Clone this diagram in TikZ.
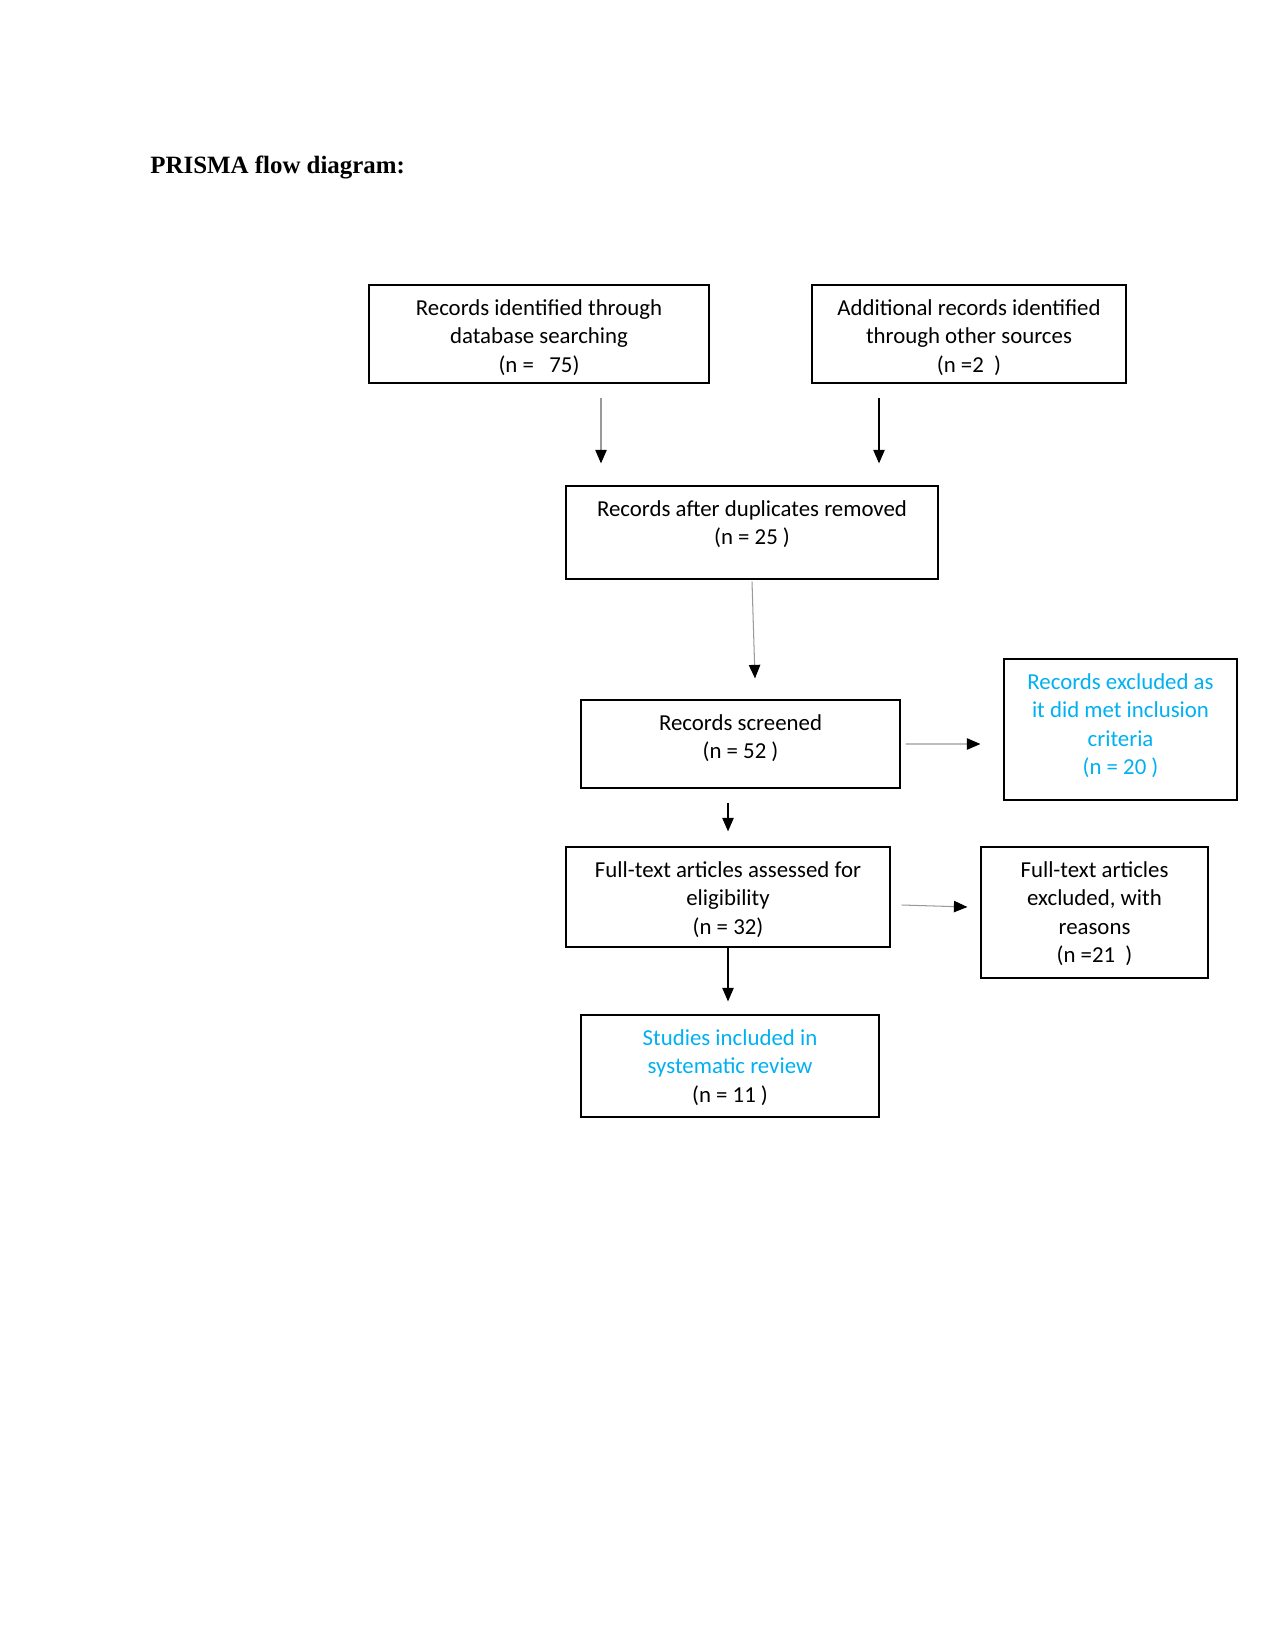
\documentclass[tikz,border=0pt]{standalone}
\usepackage{fontspec}
\setmainfont{Carlito}
\newfontfamily\headfont{Liberation Serif}
\usetikzlibrary{positioning,calc,arrows.meta}
\definecolor{sky}{RGB}{0,176,240}
\begin{document}
\begin{tikzpicture}[
                x=0.0066667in, y=-0.0066667in,
                box/.style={
                    draw=black,
                    line width=0.6pt,
                    rectangle,
                    inner sep=0pt
                },
                boxsize/.style 2 args={
                    minimum width=#1*0.0066667in,
                    minimum height=#2*0.0066667in
                },
                boxtext/.style={
                    align=center,
                    inner sep=0pt,
                    font=\fontsize{11}{13.6}\selectfont
                },
                arrow/.style={
                    -{Triangle[length=6.5pt,width=5.5pt]},
                    line width=0.5pt
                },
                faint/.style={
                    arrow,
                    draw=black!40,
                    -{Triangle[length=6.5pt,width=5.5pt,color=black]}
                }
            ]
                \useasboundingbox (0,0) rectangle (1275,1650);

                \node[anchor=base west, inner sep=0pt, font=\headfont\bfseries\fontsize{12}{14}\selectfont] (title) at (150,174) {PRISMA flow diagram:};

                \node[box, boxsize={340}{98}]  (db)  at (539,334)    {};
                \node[box, boxsize={314}{98}]  (oth) at (969,334)    {};
                \node[box, boxsize={372}{93}]  (dup) at (752,532.5)  {};
                \node[box, boxsize={319}{88}]  (scr) at (740.5,744)  {};
                \node[box, boxsize={233}{141}] (exc) at (1120.5,729.5) {};
                \node[box, boxsize={324}{100}] (ft)  at (728,897)    {};
                \node[box, boxsize={227}{131}] (ftx) at (1094.5,912.5) {};
                \node[box, boxsize={298}{102}] (inc) at (730,1066)   {};

                \node[boxtext, below=7.2pt of db.north]  (dbtext)  {Records identified through\\database searching\\(n =\ \ \ 75)};
                \node[boxtext, below=7.2pt of oth.north] (othtext) {Additional records identified\\through other sources\\(n =2\ \ )};
                \node[boxtext, below=7.2pt of dup.north] (duptext) {Records after duplicates removed\\(n = 25 )};
                \node[boxtext, below=7.2pt of scr.north] (scrtext) {Records screened\\(n = 52 )};
                \node[boxtext, text=sky, below=7.2pt of exc.north] (exctext) {Records excluded as\\it did met inclusion\\criteria\\(n = 20 )};
                \node[boxtext, below=7.2pt of ft.north]  (fttext)  {Full-text articles assessed for\\eligibility\\(n = 32)};
                \node[boxtext, below=7.2pt of ftx.north] (ftxtext) {Full-text articles\\excluded, with\\reasons\\(n =21\ \ )};
                \node[boxtext, below=7.2pt of inc.north] (inctext) {\textcolor{sky}{Studies included in}\\\textcolor{sky}{systematic review}\\(n = 11 )};

                \draw[faint] ($(db.south)+(62,14)$)   -- ($(dup.north)+(-151,-22)$);
                \draw[arrow] ($(oth.south)+(-90,14)$) -- ($(dup.north)+(127,-22)$);
                \draw[faint] ($(dup.south)+(0,2)$)    -- ($(scr.north)+(14.5,-21)$);
                \draw[faint] ($(scr.east)+(5,0)$)     -- ($(exc.west)+(-23,14.5)$);
                \draw[arrow] ($(scr.south)+(-12.5,14)$) -- ($(ft.north)+(0,-15)$);
                \draw[faint] ($(ft.east)+(11,8)$)     -- ($(ftx.west)+(-13,-5.5)$);
                \draw[arrow] (ft.south)               -- ($(inc.north)+(-2,-13)$);
        \end{tikzpicture}
\end{document}
